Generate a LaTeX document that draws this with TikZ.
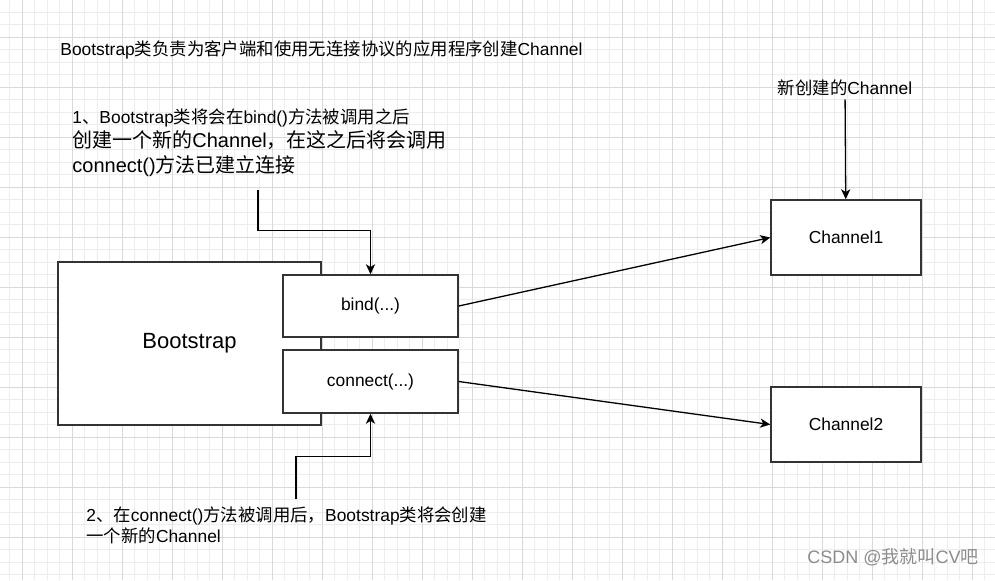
\documentclass[tikz,border=0pt]{standalone}
\usepackage{fontspec}
\setmainfont{Liberation Sans}
\setsansfont{Liberation Sans}
\newfontfamily\latinfont{Liberation Sans}
\newfontfamily\cjkfont{Noto Sans CJK SC}
\usetikzlibrary{arrows.meta}

\newXeTeXintercharclass\zhclass
\newcount\zhcode
\def\setzhrange#1#2{\zhcode=#1 \loop\XeTeXcharclass\zhcode=\zhclass\relax\ifnum\zhcode<#2 \advance\zhcode by 1 \repeat}
\setzhrange{"3000}{"303F}
\setzhrange{"4E00}{"9FFF}
\setzhrange{"FF00}{"FFEF}
\XeTeXinterchartoks 0 \zhclass = {\cjkfont}
\XeTeXinterchartoks 4095 \zhclass = {\cjkfont}
\XeTeXinterchartoks \zhclass 0 = {\latinfont}
\XeTeXinterchartoks 4095 0 = {\latinfont}
\XeTeXinterchartokenstate=1

\begin{document}
\begin{tikzpicture}[x = 0.5pt, y = -0.5pt, font=\sffamily]
	\tikzstyle{minorGrid}=[draw = black!7, line width = 0.4pt]
	\tikzstyle{majorGrid}=[draw = black!15, line width = 0.4pt]
	\tikzstyle{boxStyle}=[shape = rectangle, draw = black!80, line width = 0.75pt, fill = white, inner sep = 0pt, font = \fontsize{8.7}{10.4}\selectfont]
	\tikzstyle{noteStyle}=[inner sep = 0pt, align = left, font = \fontsize{8.7}{10.75}\selectfont]
	\tikzstyle{linkStyle}=[draw = black, line width = 0.65pt, -{Stealth[length = 5pt, width = 4.6pt, inset = 1.4pt]}]
	\useasboundingbox (0,0) rectangle (995,580);
	\fill[white] (0,0) rectangle (995,580);
	\foreach \gx in {9.5,22,...,985} \draw[minorGrid] (\gx,0) -- (\gx,580);
	\foreach \gy in {12,24.5,...,575} \draw[minorGrid] (0,\gy) -- (995,\gy);
	\foreach \gx in {22,72,...,972} \draw[majorGrid] (\gx,0) -- (\gx,580);
	\foreach \gy in {37,87,...,537} \draw[majorGrid] (0,\gy) -- (995,\gy);
	\node[noteStyle, anchor = west] (title) at (60,50) {Bootstrap类负责为客户端和使用无连接协议的应用程序创建Channel};
	\node[noteStyle, anchor = west, font = \fontsize{10}{12.25}\selectfont] (note1) at (72,142.5) {{\fontsize{8.7}{12.25}\selectfont 1、Bootstrap类将会在bind()方法被调用之后}\\创建一个新的Channel，在这之后将会调用\\connect()方法已建立连接};
	\node[noteStyle, anchor = west] (note2) at (86,525.5) {2、在connect()方法被调用后，Bootstrap类将会创建\\一个新的Channel};
	\node[noteStyle, inner sep = 1.5pt] (newlbl) at (845,88) {新创建的Channel};
	\node[boxStyle, minimum width = 131.5pt, minimum height = 81.5pt, font = \fontsize{11}{13}\selectfont] (boot) at (189.5,343.5) {Bootstrap};
	\node[boxStyle, minimum width = 87.5pt, minimum height = 31pt] (bind) at (370.5,306) {bind(...)};
	\node[boxStyle, minimum width = 87.5pt, minimum height = 31.5pt] (conn) at (370.5,381.5) {connect(...)};
	\node[boxStyle, minimum width = 75pt, minimum height = 37.5pt] (ch1) at (846,237.5) {Channel1};
	\node[boxStyle, minimum width = 75pt, minimum height = 37.5pt] (ch2) at (846,424.5) {Channel2};
	\node[noteStyle, text = black!45, font = \fontsize{9}{11}\selectfont] (mark) at (893,557) {CSDN @我就叫CV吧};
	\coordinate (n1tail) at (258,190);
	\coordinate (n2tail) at (296,499);
	\draw[linkStyle] (n1tail) |- ([yshift = 22pt]bind.north) -- (bind.north);
	\draw[linkStyle] (n2tail) |- ([yshift = -21.5pt]conn.south) -- (conn.south);
	\draw[linkStyle] (newlbl) -- (ch1);
	\draw[linkStyle] (bind.east) -- (ch1.west);
	\draw[linkStyle] (conn.east) -- (ch2.west);
\end{tikzpicture}
\end{document}
